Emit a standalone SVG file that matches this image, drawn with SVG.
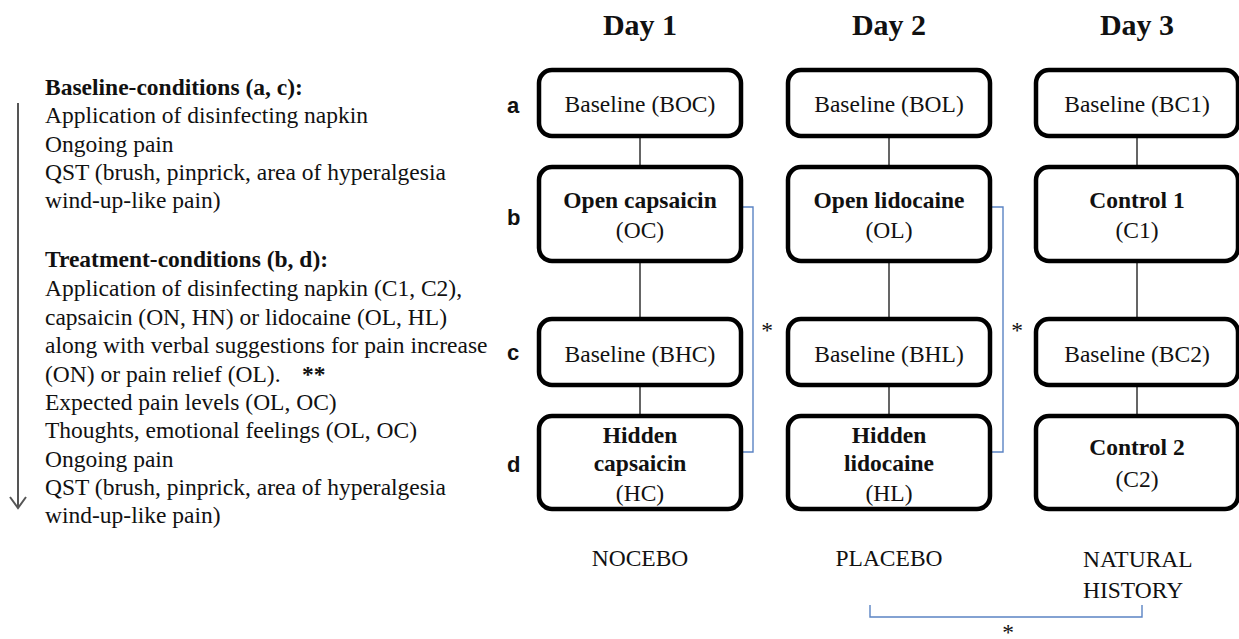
<svg xmlns="http://www.w3.org/2000/svg" width="1239" height="639" viewBox="0 0 1239 639">
<style>
.t{font-family:"Liberation Serif","Times New Roman",serif;font-size:23.5px;fill:#111}
.b{font-weight:bold}
.m{text-anchor:middle}
.h{font-family:"Liberation Serif","Times New Roman",serif;font-size:30px;font-weight:bold;fill:#111;text-anchor:middle}
.r{font-family:"Liberation Sans",Arial,sans-serif;font-size:22px;font-weight:bold;fill:#111}
.box{fill:#fff;stroke:#000;stroke-width:4.5}
.ln{stroke:#333;stroke-width:1.5;fill:none}
.bl{stroke:#5b84c4;stroke-width:1.4;fill:none}
</style>
<rect width="1239" height="639" fill="#fff"/>
<g id="legend">
<text class="t b" x="45" y="95">Baseline-conditions (a, c):</text>
<text class="t" x="45" y="123">Application of disinfecting napkin</text>
<text class="t" x="45" y="152">Ongoing pain</text>
<text class="t" x="45" y="180">QST (brush, pinprick, area of hyperalgesia</text>
<text class="t" x="45" y="208">wind-up-like pain)</text>
<text class="t b" x="45" y="267">Treatment-conditions (b, d):</text>
<text class="t" x="45" y="296">Application of disinfecting napkin (C1, C2),</text>
<text class="t" x="45" y="325">capsaicin (ON, HN) or lidocaine (OL, HL)</text>
<text class="t" x="45" y="353">along with verbal suggestions for pain increase</text>
<text class="t" x="45" y="382">(ON) or pain relief (OL).</text>
<text class="t b" x="302" y="382">**</text>
<text class="t" x="45" y="410">Expected pain levels (OL, OC)</text>
<text class="t" x="45" y="438">Thoughts, emotional feelings (OL, OC)</text>
<text class="t" x="45" y="467">Ongoing pain</text>
<text class="t" x="45" y="495">QST (brush, pinprick, area of hyperalgesia</text>
<text class="t" x="45" y="523">wind-up-like pain)</text>
<path d="M18,103 V508 M10,497 L18,508 L26,497" stroke="#555" stroke-width="2" fill="none"/>
</g>
<g id="headings">
<text class="h" x="640" y="35">Day 1</text>
<text class="h" x="889" y="35">Day 2</text>
<text class="h" x="1137" y="35">Day 3</text>
<text class="r" x="507" y="113">a</text>
<text class="r" x="507" y="225">b</text>
<text class="r" x="507" y="360">c</text>
<text class="r" x="507" y="472">d</text>
</g>
<g id="connectors">
<path class="ln" d="M640,138 V165 M640,263 V317 M640,387 V414"/>
<path class="ln" d="M889,138 V165 M889,263 V317 M889,387 V414"/>
<path class="ln" d="M1137,138 V165 M1137,263 V317 M1137,387 V414"/>
<path class="bl" d="M742,207 H753 V452 H742"/>
<path class="bl" d="M992,207 H1003 V452 H992"/>
<path class="bl" d="M870,605 V617 H1142 V605"/>
<text class="t m" x="767" y="338">*</text>
<text class="t m" x="1017" y="338">*</text>
<text class="t m" x="1008" y="640">*</text>
</g>
<g id="BOC"><rect class="box" x="539" y="70" width="202" height="66" rx="13"/><text class="t m" x="640" y="112">Baseline (BOC)</text></g>
<g id="OC"><rect class="box" x="539" y="167" width="202" height="94" rx="13"/><text class="t m b" x="640" y="208">Open capsaicin</text><text class="t m" x="640" y="238">(OC)</text></g>
<g id="BHC"><rect class="box" x="539" y="319" width="202" height="66" rx="13"/><text class="t m" x="640" y="362">Baseline (BHC)</text></g>
<g id="HC"><rect class="box" x="539" y="416" width="202" height="93" rx="13"/><text class="t m b" x="640" y="443">Hidden</text><text class="t m b" x="640" y="471">capsaicin</text><text class="t m" x="640" y="501">(HC)</text></g>
<g id="BOL"><rect class="box" x="788" y="70" width="202" height="66" rx="13"/><text class="t m" x="889" y="112">Baseline (BOL)</text></g>
<g id="OL"><rect class="box" x="788" y="167" width="202" height="94" rx="13"/><text class="t m b" x="889" y="208">Open lidocaine</text><text class="t m" x="889" y="238">(OL)</text></g>
<g id="BHL"><rect class="box" x="788" y="319" width="202" height="66" rx="13"/><text class="t m" x="889" y="362">Baseline (BHL)</text></g>
<g id="HL"><rect class="box" x="788" y="416" width="202" height="93" rx="13"/><text class="t m b" x="889" y="443">Hidden</text><text class="t m b" x="889" y="471">lidocaine</text><text class="t m" x="889" y="501">(HL)</text></g>
<g id="BC1"><rect class="box" x="1036" y="70" width="202" height="66" rx="13"/><text class="t m" x="1137" y="112">Baseline (BC1)</text></g>
<g id="C1"><rect class="box" x="1036" y="167" width="202" height="94" rx="13"/><text class="t m b" x="1137" y="208">Control 1</text><text class="t m" x="1137" y="238">(C1)</text></g>
<g id="BC2"><rect class="box" x="1036" y="319" width="202" height="66" rx="13"/><text class="t m" x="1137" y="362">Baseline (BC2)</text></g>
<g id="C2"><rect class="box" x="1036" y="416" width="202" height="93" rx="13"/><text class="t m b" x="1137" y="455">Control 2</text><text class="t m" x="1137" y="487">(C2)</text></g>
<g id="groups">
<text class="t m" x="640" y="566">NOCEBO</text>
<text class="t m" x="889" y="566">PLACEBO</text>
<text class="t" x="1083" y="567">NATURAL</text>
<text class="t" x="1083" y="598">HISTORY</text>
</g>
</svg>
